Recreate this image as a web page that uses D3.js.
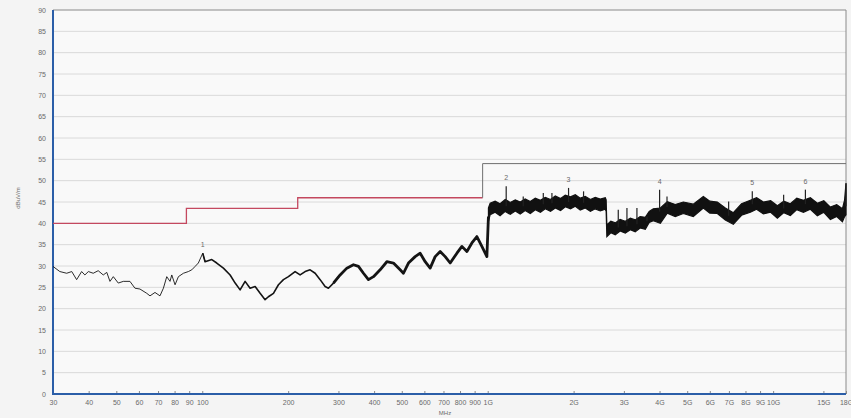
<!DOCTYPE html>
<html>
<head>
<meta charset="utf-8">
<script src="https://cdn.jsdelivr.net/npm/d3@7"></script>
<style>
  html, body { margin: 0; padding: 0; background: #f4f4f4; }
  svg { display: block; }
  text { font-family: "Liberation Sans", Arial, sans-serif; fill: #6a6a6a; }
</style>
</head>
<body>
<div id="chart"></div>
<script>
// x ticks (MHz) and their labels
var xTicks = [30, 40, 50, 60, 70, 80, 90, 100, 200, 300, 400, 500, 600, 700, 800, 900,
  1000, 2000, 3000, 4000, 5000, 6000, 7000, 8000, 9000, 10000, 15000, 18000];
var xTickLabels = ["30", "40", "50", "60", "70", "80", "90", "100", "200", "300", "400", "500",
  "600", "700", "800", "900", "1G", "2G", "3G", "4G", "5G", "6G", "7G", "8G", "9G", "10G", "15G", "18G"];
var yTicks = [0, 5, 10, 15, 20, 25, 30, 35, 40, 45, 50, 55, 60, 65, 70, 75, 80, 85, 90];

// limit line (MHz, dBuV/m)
var limitFreq = [30, 88, 88, 216, 216, 960];
var limitLevel = [40, 40, 43.5, 43.5, 46, 46];
var limitHiFreq = [960, 960, 18000];
var limitHiLevel = [46, 54, 54];

// measured trace below 1 GHz
var lowFreq = [30, 31.7, 33.5, 34.9, 36.3, 37.8, 38.8, 39.9, 41.5, 43.2, 45.0, 46.3, 47.5, 48.8,
  50.8, 52.9, 55.8, 58.1, 60.5, 63.9, 65.6, 68.3, 71.1, 73.1, 75.1, 77.1, 78.2, 80.3, 82.5,
  85.9, 89.4, 91.9, 94.4, 96.9, 100.4, 102.3, 108, 112.4, 118.6, 125.2, 130.4, 135.7, 141.3,
  147.1, 153.2, 159.5, 166.0, 170.5, 177.6, 184.9, 192.5, 200.4, 211.5, 220.2, 229.3, 238.7,
  248.6, 258.8, 269.4, 276.7, 288.1, 304.1, 321.0, 338.6, 352.6, 367.1, 382.2, 398.0, 419.9,
  443.3, 467.5, 493.5, 506.8, 527.7, 557.0, 580.0, 603.9, 628.7, 654.6, 681.6, 709.7, 738.9,
  780.1, 812.2, 845.6, 880.4, 916.5, 954.2, 993.5, 1006];
var lowLevel = [29.9, 28.7, 28.3, 28.7, 26.8, 28.7, 27.9, 28.7, 28.3, 28.9, 27.9, 28.5, 26.4, 27.5,
  26.0, 26.4, 26.4, 24.8, 24.6, 23.6, 23.0, 23.8, 23.0, 24.8, 27.5, 26.4, 27.9, 25.6, 27.5,
  28.3, 28.7, 29.1, 29.9, 30.7, 33.0, 31.0, 31.5, 30.7, 29.5, 27.9, 26.0, 24.4, 26.4,
  24.8, 25.2, 23.6, 22.1, 22.8, 23.6, 25.6, 26.8, 27.5, 28.7, 27.9, 28.7, 29.1,
  28.3, 26.8, 25.2, 24.8, 26.0, 27.9, 29.5, 30.3, 29.9, 28.3, 26.8, 27.5, 29.1,
  31.0, 30.7, 29.1, 28.3, 30.7, 32.2, 33.0, 31.0, 29.5, 32.2, 33.4, 32.2, 30.7,
  33.0, 34.6, 33.4, 35.4, 36.9, 34.6, 32.2, 41.6];

// measured noise band above 1 GHz (min / max of the sweep)
var bandFreq = [1006, 1020, 1062, 1105, 1152, 1200, 1249, 1300, 1353, 1410, 1468, 1530, 1591,
  1660, 1725, 1800, 1870, 1950, 2027, 2110, 2197, 2290, 2381, 2480, 2582, 2600, 2615, 2700,
  2799, 2910, 3034, 3160, 3288, 3420, 3566, 3680, 3804, 4026, 4258, 4540, 4846, 5250, 5694,
  6000, 6375, 6800, 7254, 7750, 8322, 8750, 9244, 9800, 10347, 10900, 11492, 12100, 12765,
  13500, 14287, 15050, 15869, 16700, 17487, 17800, 18000];
var bandLo = [40.5, 42.0, 42.6, 41.8, 42.8, 42.1, 42.9, 42.2, 43.0, 42.3, 43.2, 42.6, 43.4,
  42.8, 43.6, 43.0, 43.9, 43.4, 44.0, 43.1, 43.6, 42.8, 43.4, 42.9, 43.3, 42.8, 36.9, 37.8,
  37.3, 38.2, 37.7, 38.5, 38.0, 38.9, 38.6, 40.2, 40.6, 40.0, 42.4, 41.6, 42.3, 41.6, 43.6,
  42.4, 42.3, 40.8, 39.8, 41.9, 42.6, 43.3, 42.2, 42.6, 41.2, 42.5, 41.8, 43.2, 42.6,
  43.3, 41.8, 42.6, 40.9, 41.6, 40.4, 41.6, 42.0];
var bandHi = [43.6, 44.7, 45.2, 44.6, 45.6, 44.9, 45.5, 45.0, 45.7, 45.1, 45.9, 45.4, 46.1,
  45.6, 46.4, 45.8, 46.6, 46.2, 46.7, 45.9, 46.3, 45.6, 46.1, 45.7, 46.0, 45.5, 39.6, 40.5,
  40.1, 40.9, 40.5, 41.2, 40.8, 41.6, 41.4, 42.8, 43.4, 43.6, 45.1, 44.4, 45.0, 44.5, 46.3,
  45.2, 45.0, 43.6, 42.5, 44.6, 45.4, 46.0, 45.0, 45.3, 44.1, 45.2, 44.6, 45.9, 45.4,
  46.0, 44.7, 45.3, 43.8, 44.4, 43.4, 45.5, 49.4];

// narrow spikes above the band
var spikeFreq = [1161, 1332, 1566, 1679, 1920, 2167, 2867, 3075, 3333, 3614, 4002, 4248, 6984, 8452, 10884, 12973, 18000];
var spikeBase = [44.0, 44.0, 44.5, 44.7, 45.0, 44.8, 39.0, 39.3, 39.8, 40.5, 42.8, 43.8, 41.8, 44.5, 43.5, 44.5, 44.0];
var spikeTop = [48.7, 46.3, 47.1, 47.1, 48.3, 47.5, 43.2, 43.6, 43.6, 41.6, 47.9, 46.3, 45.1, 47.5, 46.7, 47.9, 49.4];

// peak markers
var markerFreq = [100.4, 1161, 1920, 4002, 8452, 12973];
var markerLevel = [33.0, 48.7, 48.3, 47.9, 47.5, 47.9];
var markerLabel = ["1", "2", "3", "4", "5", "6"];

var width = 851, height = 418;
var mLeft = 53, mRight = 846, mTop = 10, mBottom = 394;

var svg = d3.select("#chart").append("svg")
  .attr("width", width)
  .attr("height", height);

var x = d3.scaleLog().domain([30, 18000]).range([mLeft, mRight]);
var y = d3.scaleLinear().domain([0, 90]).range([mBottom, mTop]);

svg.append("rect")
  .attr("x", mLeft).attr("y", mTop)
  .attr("width", mRight - mLeft).attr("height", mBottom - mTop)
  .attr("fill", "#f9f9f9");

// horizontal grid
svg.append("g").selectAll("line")
  .data(yTicks.slice(1, -1))
  .enter().append("line")
  .attr("x1", mLeft).attr("x2", mRight)
  .attr("y1", function (d) { return y(d); })
  .attr("y2", function (d) { return y(d); })
  .attr("stroke", "#dadada")
  .attr("stroke-width", 1);

// frame top / right
svg.append("path")
  .attr("d", "M" + mLeft + "," + mTop + "H" + mRight + "V" + mBottom)
  .attr("fill", "none")
  .attr("stroke", "#8a8a8a")
  .attr("stroke-width", 1);

// y axis
var yAxis = d3.axisLeft(y).tickValues(yTicks).tickSize(0).tickPadding(7);
var gy = svg.append("g").attr("transform", "translate(" + mLeft + ",0)").call(yAxis);
gy.select(".domain").remove();
gy.selectAll("text").style("font-size", "7px").attr("fill", "#6a6a6a");

// x axis
var xAxis = d3.axisBottom(x).tickValues(xTicks)
  .tickFormat(function (d, i) { return xTickLabels[i]; })
  .tickSize(3).tickPadding(3);
var gx = svg.append("g").attr("transform", "translate(0," + (mBottom - 3) + ")").call(xAxis);
gx.select(".domain").remove();
gx.selectAll("line").attr("stroke", "#8a8a8a");
gx.selectAll("text").style("font-size", "7px").attr("fill", "#6a6a6a").attr("dy", "1.1em");

// blue axis lines
svg.append("path")
  .attr("d", "M" + mLeft + "," + mTop + "V" + mBottom + "H" + mRight)
  .attr("fill", "none")
  .attr("stroke", "#2b5ea8")
  .attr("stroke-width", 2);

svg.append("text")
  .attr("x", 445).attr("y", 415)
  .attr("text-anchor", "middle")
  .style("font-size", "6px")
  .text("MHz");

svg.append("text")
  .attr("transform", "translate(20,198) rotate(-90)")
  .attr("text-anchor", "middle")
  .style("font-size", "6px")
  .text("dBuV/m");

var line = d3.line()
  .x(function (d) { return x(d[0]); })
  .y(function (d) { return y(d[1]); });

// limit lines
svg.append("path")
  .datum(d3.zip(limitFreq, limitLevel))
  .attr("d", line)
  .attr("fill", "none")
  .attr("stroke", "#c4485f")
  .attr("stroke-width", 1.3);
svg.append("path")
  .datum(d3.zip(limitHiFreq, limitHiLevel))
  .attr("d", line)
  .attr("fill", "none")
  .attr("stroke", "#6f6f6f")
  .attr("stroke-width", 1);

// trace below 1 GHz, thicker where the sweep gets denser
var low = d3.zip(lowFreq, lowLevel);
var segs = [
  { from: 30, to: 102.3, w: 0.9 },
  { from: 100.4, to: 304.1, w: 1.6 },
  { from: 288.1, to: 1006, w: 2.8 }
];
segs.forEach(function (s) {
  svg.append("path")
    .datum(low.filter(function (d) { return d[0] >= s.from && d[0] <= s.to; }))
    .attr("d", line)
    .attr("fill", "none")
    .attr("stroke", "#141414")
    .attr("stroke-width", s.w)
    .attr("stroke-linejoin", "round");
});

// noise band above 1 GHz
var area = d3.area()
  .x(function (d) { return x(d[0]); })
  .y0(function (d) { return y(d[1]); })
  .y1(function (d) { return y(d[2]); });
svg.append("path")
  .datum(d3.zip(bandFreq, bandLo, bandHi))
  .attr("d", area)
  .attr("fill", "#111")
  .attr("stroke", "#111")
  .attr("stroke-width", 1.2)
  .attr("stroke-linejoin", "miter");

svg.append("g").selectAll("line")
  .data(d3.zip(spikeFreq, spikeBase, spikeTop))
  .enter().append("line")
  .attr("x1", function (d) { return x(d[0]); })
  .attr("x2", function (d) { return x(d[0]); })
  .attr("y1", function (d) { return y(d[1]); })
  .attr("y2", function (d) { return y(d[2]); })
  .attr("stroke", "#222")
  .attr("stroke-width", 1.2);

// markers
svg.append("g").selectAll("text")
  .data(d3.zip(markerFreq, markerLevel, markerLabel))
  .enter().append("text")
  .attr("x", function (d) { return x(d[0]); })
  .attr("y", function (d) { return y(d[1]) - 6; })
  .attr("text-anchor", "middle")
  .style("font-size", "7px")
  .attr("fill", "#444")
  .text(function (d) { return d[2]; });
</script>
</body>
</html>
